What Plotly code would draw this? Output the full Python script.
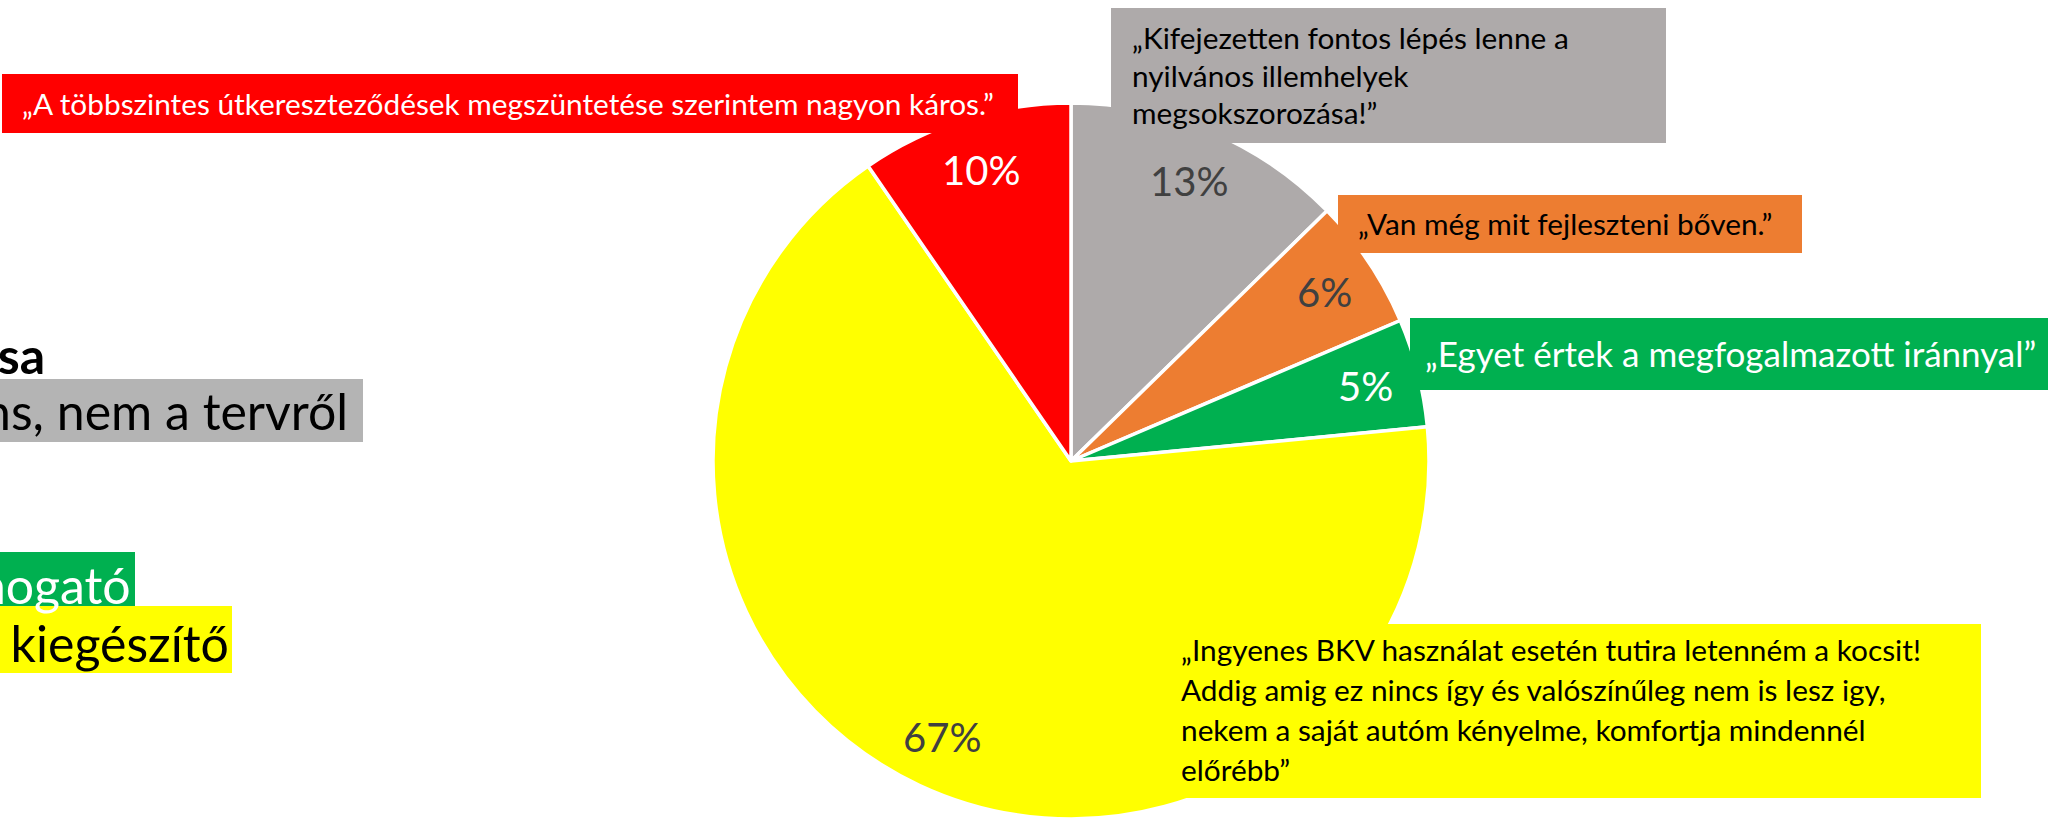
import math
import plotly.graph_objects as go

W, H = 2048, 819

# ---------------- data ----------------
categories = ["Nem releváns, nem a tervről", "Fejlesztendő", "Támogató",
              "Javaslat, kiegészítő", "Ellenző"]
values = [12.7, 5.9, 4.9, 67.0, 9.6]
slice_colors = ["#AEAAAA", "#ED7D31", "#00B050", "#FFFF00", "#FF0000"]
pct_colors = ["#404040", "#404040", "#FFFFFF", "#404040", "#FFFFFF"]
quotes = [
    ["„Kifejezetten fontos lépés lenne a", "nyilvános illemhelyek", "megsokszorozása!”"],
    ["„Van még mit fejleszteni bőven.”"],
    ["„Egyet értek a megfogalmazott iránnyal”"],
    ["„Ingyenes BKV használat esetén tutira letenném a kocsit!",
     "Addig amig ez nincs így és valószínűleg nem is lesz igy,",
     "nekem a saját autóm kényelme, komfortja mindennél",
     "előrébb”"],
    ["„A többszintes útkereszteződések megszüntetése szerintem nagyon káros.”"],
]
quote_colors = ["#000000", "#000000", "#FFFFFF", "#000000", "#FFFFFF"]
legend_title = "Vélemények megoszlása"
legend_items = ["Nem releváns, nem a tervről", "Támogató", "Javaslat, kiegészítő"]
legend_box_colors = ["#B4B4B4", "#00B050", "#FFFF00"]
legend_text_colors = ["#000000", "#FFFFFF", "#000000"]

FONT = "Lato, 'Open Sans', sans-serif"

# ---------------- layout helpers ----------------
def px(x):
    return x / W

def py(y):
    return 1 - y / H

# pie domain (pixels)
dom_x = (713, 1429)
dom_y = (103, 819)  # top, bottom (from top)

fig = go.Figure()
fig.add_trace(go.Pie(
    labels=categories, values=values, sort=False, direction="clockwise",
    rotation=0, textinfo="none", hoverinfo="label+percent",
    marker=dict(colors=slice_colors, line=dict(color="#FFFFFF", width=3.5)),
    domain=dict(x=[px(dom_x[0]), px(dom_x[1])], y=[py(dom_y[1]), py(dom_y[0])]),
    showlegend=False,
))

shapes = []
annotations = []

def box(x0, y0, x1, y1, color):
    shapes.append(dict(type="rect", xref="paper", yref="paper",
                       x0=px(x0), x1=px(x1), y0=py(y1), y1=py(y0),
                       fillcolor=color, line=dict(width=0), layer="above"))

def text_at_baseline(x, base, s, size, color, xanchor="left", bold=False):
    mid = base - 0.387 * size
    annotations.append(dict(
        x=px(x), y=py(mid), xref="paper", yref="paper",
        text=("<b>%s</b>" % s) if bold else s,
        showarrow=False, xanchor=xanchor, yanchor="middle", align="left",
        font=dict(family=FONT, size=size, color=color),
        borderpad=0, borderwidth=0))

# quote boxes: (x0, y0, x1, y1), text left, first baseline, line spacing, font size
quote_boxes = [
    ((1111, 8, 1666, 143), 1132, 49.5, 37.5, 29.8),
    ((1338, 195, 1802, 253), 1358, 235, 0, 29.8),
    ((1410, 318, 2048, 390), 1425, 367, 0, 35),
    ((1166, 624, 1981, 798), 1181, 661, 40, 29.8),
    ((2, 74, 1018, 133), 22, 115, 0, 29.8),
]
for i, (b, tx, base, sp, fs) in enumerate(quote_boxes):
    box(*b, slice_colors[i])
    for k, line in enumerate(quotes[i]):
        text_at_baseline(tx, base + k * sp, line, fs, quote_colors[i])

# percentage labels along slice bisectors
cx = (dom_x[0] + dom_x[1]) / 2
cy = (dom_y[0] + dom_y[1]) / 2
R = min(dom_x[1] - dom_x[0], dom_y[1] - dom_y[0]) / 2
total = sum(values)
cum = 0
for v, c in zip(values, pct_colors):
    a = math.radians((cum + v / 2) / total * 360)
    cum += v
    lx = cx + 0.85 * R * math.sin(a)
    ly = cy - 0.85 * R * math.cos(a)
    annotations.append(dict(
        x=px(lx), y=py(ly), xref="paper", yref="paper",
        text="%d%%" % round(v / total * 100), showarrow=False,
        xanchor="center", yanchor="middle",
        font=dict(family=FONT, size=40, color=c), borderpad=0, borderwidth=0))

# left legend (partly outside the canvas, as in the source slide)
LFS = 50
text_at_baseline(45, 374, legend_title, LFS, "#000000", xanchor="right", bold=True)
legend_boxes = [(0, 379, 363, 442), (0, 552, 135, 606), (0, 606, 232, 673)]
legend_geo = [(348, 430), (131, 604), (229, 662)]
for item, b, col, tcol, (rx, base) in zip(legend_items, legend_boxes, legend_box_colors,
                                           legend_text_colors, legend_geo):
    box(*b, col)
    text_at_baseline(rx, base, item, LFS, tcol, xanchor="right")

fig.update_layout(
    width=W, height=H, margin=dict(l=0, r=0, t=0, b=0),
    paper_bgcolor="#FFFFFF", plot_bgcolor="#FFFFFF",
    shapes=shapes, annotations=annotations,
)
fig.write_html("out.html")
